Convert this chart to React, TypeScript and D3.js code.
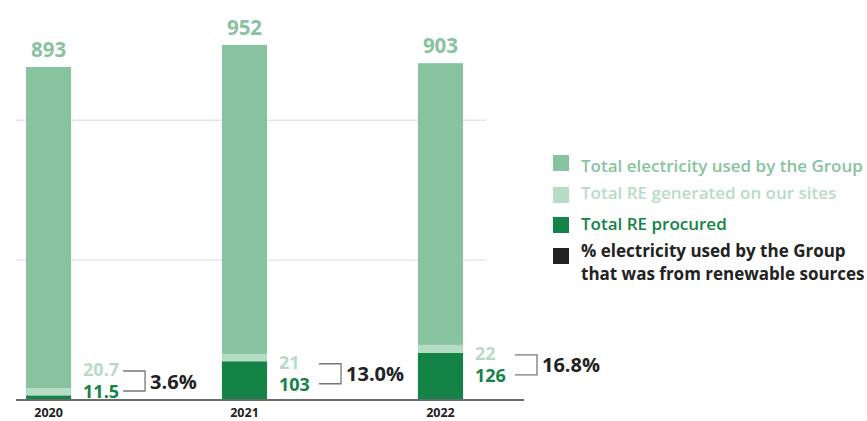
import React from "react";
import * as d3 from "d3";

const years = ["2020", "2021", "2022"];
const totalElectricity = [893, 952, 903];
const reGenerated = [20.7, 21, 22];
const reProcured = [11.5, 103, 126];
const renewablePct = ["3.6%", "13.0%", "16.8%"];
const gridValues = [375, 750];
const legendItems = [
  "Total electricity used by the Group",
  "Total RE generated on our sites",
  "Total RE procured",
];
const legendPctLines = ["% electricity used by the Group", "that was from renewable sources"];

const C_TOTAL = "#88c3a0";
const C_GEN = "#b6dcc6";
const C_PROC = "#138446";
const C_BLACK = "#222222";
const FONT = "'Open Sans', 'Noto Sans', sans-serif";

export default function App() {
  const W = 867;
  const H = 421;
  const baseline = 400;
  const x = d3.scaleBand<string>().domain(years).range([26, 463]).paddingInner(0.77).paddingOuter(0);
  const y = d3.scaleLinear().domain([0, 1000]).range([baseline, baseline - 373]);
  const bw = x.bandwidth();

  return (
    <svg width={W} height={H} style={{ position: "fixed", left: 0, top: 0, display: "block", background: "#fff" }} fontFamily={FONT}>
      {gridValues.map((v) => (
        <line key={v} x1={16} x2={486} y1={y(v)} y2={y(v)} stroke="#e6e6e6" strokeWidth={1.5} />
      ))}
      {years.map((yr, i) => {
        const x0 = x(yr)!;
        const total = totalElectricity[i];
        const proc = reProcured[i];
        const gen = reGenerated[i];
        const lightTop = y(proc + gen);
        const b1 = Math.min(lightTop + 15, baseline - 24);
        const b2 = b1 + 22;
        const tx = x0 + bw + 12;
        const bx = x0 + bw + 52;
        const bTop = b1 - 5;
        const bBot = b2 - 7;
        return (
          <g key={yr}>
            <rect x={x0} width={bw} y={y(total)} height={baseline - y(total)} fill={C_TOTAL} />
            <rect x={x0} width={bw} y={y(proc + gen)} height={y(proc) - y(proc + gen)} fill={C_GEN} />
            <rect x={x0} width={bw} y={y(proc)} height={baseline - y(proc)} fill={C_PROC} />
            <text x={x0 + bw / 2} y={y(total) - 10} textAnchor="middle" fontSize={20.5} fontWeight={700} fill={C_TOTAL}>
              {total}
            </text>
            <text x={tx} y={b1} fontSize={18} fontWeight={700} fill={C_GEN}>
              {gen}
            </text>
            <text x={tx} y={b2} fontSize={18} fontWeight={700} fill={C_PROC}>
              {proc}
            </text>
            <path
              d={`M${bx},${bTop}H${bx + 22}V${bBot}H${bx}`}
              fill="none"
              stroke="#777"
              strokeWidth={1.3}
            />
            <text x={bx + 27} y={(bTop + bBot) / 2 + 7.5} fontSize={20} fontWeight={700} fill={C_BLACK}>
              {renewablePct[i]}
            </text>
            <text x={x0 + bw / 2} y={416.5} textAnchor="middle" fontSize={12.5} fontWeight={700} fill={C_BLACK}>
              {yr}
            </text>
          </g>
        );
      })}
      <line x1={16} x2={524} y1={baseline} y2={baseline} stroke="#6b6b6b" strokeWidth={2} />
      {[
        { label: legendItems[0], color: C_TOTAL, sy: 155, ty: 171.5 },
        { label: legendItems[1], color: C_GEN, sy: 187, ty: 198.5 },
        { label: legendItems[2], color: C_PROC, sy: 217, ty: 230 },
      ].map((d) => (
        <g key={d.label}>
          <rect x={553} y={d.sy} width={16} height={16} fill={d.color} />
          <text x={581} y={d.ty} fontSize={17} fontWeight={600} fill={d.color}>
            {d.label}
          </text>
        </g>
      ))}
      <rect x={553} y={248} width={16} height={16} fill={C_BLACK} />
      {legendPctLines.map((l, i) => (
        <text key={l} x={581} y={256.5 + i * 23.5} fontSize={17} fontWeight={700} fill={C_BLACK}>
          {l}
        </text>
      ))}
    </svg>
  );
}
